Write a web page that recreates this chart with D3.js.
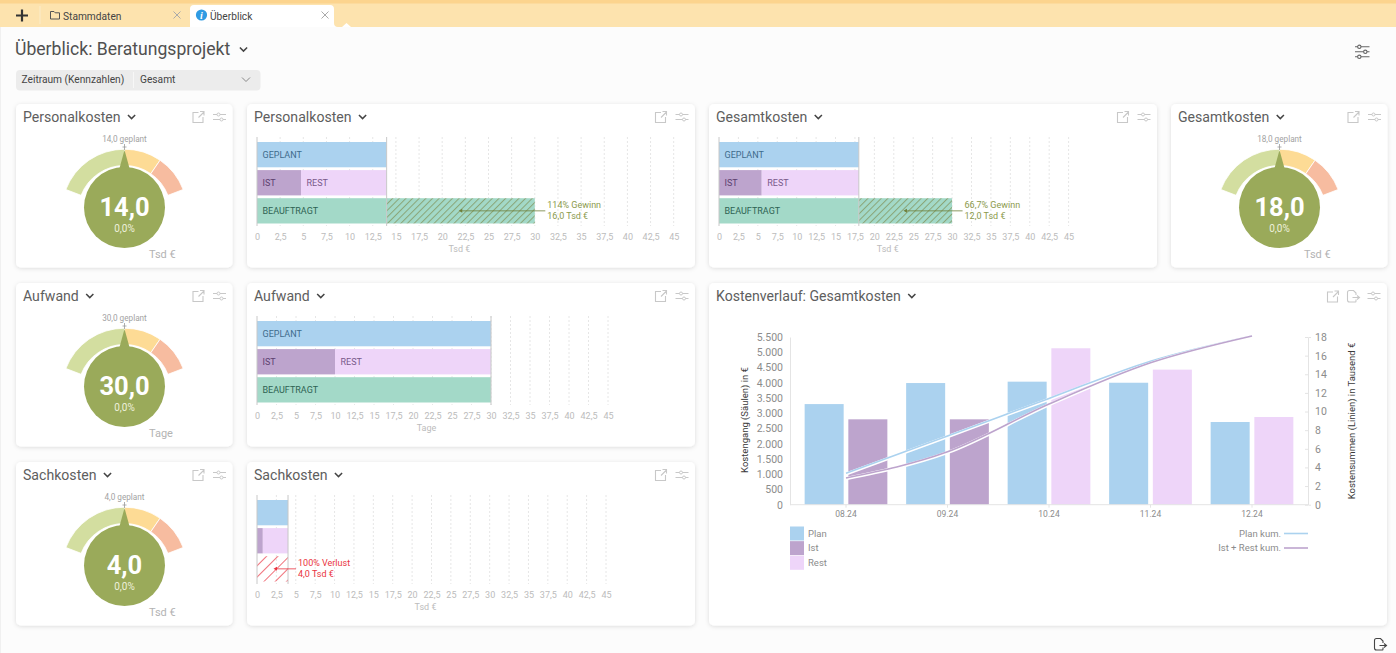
<!DOCTYPE html>
<html>
<head>
<meta charset="utf-8">
<style>
  html, body { margin: 0; padding: 0; background: #fff; overflow: hidden; }
  svg { display: block; font-family: Roboto, sans-serif; }
</style>
</head>
<body>
<script src="https://d3js.org/d3.v7.min.js"></script>
<script>
// gauge data
const gaugeTitles = ["Personalkosten", "Aufwand", "Sachkosten", "Gesamtkosten"];
const gaugeValues = [14, 30, 4, 18];
const gaugePlanned = [14, 30, 4, 18];
const gaugeDeviation = [0, 0, 0, 0];
const gaugeUnits = ["Tsd €", "Tage", "Tsd €", "Tsd €"];
const gaugeBands = [0, 1, 1.5, 2]; // share of plan

// horizontal bars
const barTitles = ["Personalkosten", "Aufwand", "Sachkosten", "Gesamtkosten"];
const barGeplant = [14, 30, 4, 18];
const barIst = [4.75, 10, 0.75, 5.5];
const barBeauftragt = [30, 30, 0, 30];
const barUnits = ["Tsd €", "Tage", "Tsd €", "Tsd €"];
const barNotes = ["114% Gewinn", "", "100% Verlust", "66,7% Gewinn"];
const barDiffs = ["16,0 Tsd €", "", "4,0 Tsd €", "12,0 Tsd €"];
const barTicks = [0, 2.5, 5, 7.5, 10, 12.5, 15, 17.5, 20, 22.5, 25, 27.5, 30, 32.5, 35, 37.5, 40, 42.5, 45];

// Kostenverlauf
const months = ["08.24", "09.24", "10.24", "11.24", "12.24"];
const planCosts = [3300, 3990, 4035, 4000, 2712];
const istCosts = [2800, 2800, 0, 0, 0];
const restCosts = [0, 0, 5130, 4430, 2876];
const planCum = [3.3, 7.3, 11.33, 15.33, 18.04];
const istRestCum = [2.8, 5.6, 10.73, 15.16, 18.04];
const leftTicks = [0, 500, 1000, 1500, 2000, 2500, 3000, 3500, 4000, 4500, 5000, 5500];
const rightTicks = [0, 2, 4, 6, 8, 10, 12, 14, 16, 18];

const c = {
  plan: "#abd2ef", ist: "#bda4cd", rest: "#eed5f9", teal: "#a3d9c8",
  title: "#5e5e5e", icon: "#c8c8c8", olive: "#8b9a4c", red: "#ea3340"
};
const deNum = d3.formatLocale({ decimal: ",", thousands: ".", grouping: [3], currency: ["", "€"] });
const fmt1 = deNum.format(".1f");
const fmtTick = v => String(v).replace(".", ",");
const fmtThousand = deNum.format(",");

const svg = d3.select("body").append("svg").attr("width", 1396).attr("height", 653);
const defs = svg.append("defs");

const shadow = defs.append("filter").attr("id", "shadow")
  .attr("x", "-5%").attr("y", "-5%").attr("width", "110%").attr("height", "110%");
shadow.append("feDropShadow").attr("dx", 0).attr("dy", 1).attr("stdDeviation", 2)
  .attr("flood-color", "#000").attr("flood-opacity", 0.13);

function hatch(id, size, color, back) {
  const p = defs.append("pattern").attr("id", id).attr("width", size).attr("height", size)
    .attr("patternUnits", "userSpaceOnUse").attr("patternTransform", "rotate(45)");
  if (back) p.append("rect").attr("width", size).attr("height", size).attr("fill", back);
  p.append("rect").attr("width", 1).attr("height", size).attr("fill", color);
}
hatch("hatchGreen", 4.7, "#8aa577", c.teal);
hatch("hatchRed", 8, "#f0707a", null);

svg.append("rect").attr("width", 1396).attr("height", 653).attr("fill", "#fcfcfc");
svg.append("rect").attr("y", 27).attr("width", 1).attr("height", 626).attr("fill", "#f0f0f0");

// ---------- tab bar ----------
svg.append("rect").attr("width", 1396).attr("height", 27).attr("fill", "#fde3ae");
svg.append("rect").attr("width", 1396).attr("height", 3.5).attr("fill", "#fcd48e");
svg.append("line").attr("x1", 40).attr("x2", 40).attr("y1", 6).attr("y2", 24).attr("stroke", "#fbecca");
svg.append("path").attr("d", "M16 15.5H28M22 9.5V21.5").attr("stroke", "#333").attr("stroke-width", 2.2).attr("fill", "none");
svg.append("path").attr("d", "M50.5 11.5h3.5l1.2 1.3h4.3v6.2h-9z").attr("fill", "none").attr("stroke", "#555").attr("stroke-width", 1);
svg.append("text").attr("x", 63).attr("y", 19.5).attr("font-size", 10.2).attr("fill", "#444").text("Stammdaten");
function closeX(x) {
  svg.append("path").attr("d", `M${x - 3.5} 11.5l7 7m0 -7l-7 7`).attr("stroke", "#aaa").attr("stroke-width", 1).attr("fill", "none");
}
closeX(177);
svg.append("path").attr("d", "M190 27V9q0 -4 4 -4H330q4 0 4 4V23q0 4 4 4z").attr("fill", "#fff");
svg.append("path").attr("d", "M342 27l4.5 -4l4.5 4z").attr("fill", "#fff");
svg.append("circle").attr("cx", 201.5).attr("cy", 15).attr("r", 5.6).attr("fill", "#2f9be3");
svg.append("text").attr("x", 201.5).attr("y", 18.6).attr("text-anchor", "middle").attr("font-size", 10)
  .attr("font-weight", 700).attr("font-style", "italic").attr("font-family", "'Liberation Serif', serif").attr("fill", "#fff").text("i");
svg.append("text").attr("x", 210).attr("y", 19.5).attr("font-size", 10.2).attr("fill", "#444").text("Überblick");
closeX(325);

// ---------- page header ----------
function chevron(g, x, y, color) {
  g.append("path").attr("d", `M${x - 3.6} ${y - 2}l3.6 3.6l3.6 -3.6`)
    .attr("fill", "none").attr("stroke", color || "#444").attr("stroke-width", 1.5);
}
svg.append("text").attr("x", 15).attr("y", 55).attr("font-size", 17.6).attr("fill", "#505050").text("Überblick: Beratungsprojekt");
chevron(svg, 243.5, 49.5);
svg.append("rect").attr("x", 16).attr("y", 70).attr("width", 244.5).attr("height", 20.5).attr("rx", 4).attr("fill", "#ececec");
svg.append("line").attr("x1", 133.5).attr("x2", 133.5).attr("y1", 72).attr("y2", 88).attr("stroke", "#f7f7f7");
svg.append("text").attr("x", 21.5).attr("y", 83).attr("font-size", 10.2).attr("fill", "#444").text("Zeitraum (Kennzahlen)");
svg.append("text").attr("x", 140).attr("y", 83).attr("font-size", 10.2).attr("fill", "#444").text("Gesamt");
svg.append("path").attr("d", "M242 77.5l4 4l4 -4").attr("fill", "none").attr("stroke", "#888").attr("stroke-width", 1);

function slidersIcon(g, x, y, color) {
  const t = g.append("g").attr("transform", `translate(${x},${y})`)
    .attr("fill", "none").attr("stroke", color).attr("stroke-width", 1);
  t.append("path").attr("d", "M0 2.5H4M7 2.5H13M0 7.5H7M10 7.5H13");
  t.append("circle").attr("cx", 5.5).attr("cy", 2.5).attr("r", 1.5);
  t.append("circle").attr("cx", 8.5).attr("cy", 7.5).attr("r", 1.5);
}
// page-level settings icon has three sliders
const pageIcon = svg.append("g").attr("transform", "translate(1355,45)")
  .attr("fill", "none").attr("stroke", "#666").attr("stroke-width", 1.1);
pageIcon.append("path").attr("d", "M0 1.8H2.6M6 1.8H14.5M0 6.8H8.5M12 6.8H14.5M0 11.8H2.6M6 11.8H14.5");
pageIcon.append("circle").attr("cx", 4.3).attr("cy", 1.8).attr("r", 1.7);
pageIcon.append("circle").attr("cx", 10.3).attr("cy", 6.8).attr("r", 1.7);
pageIcon.append("circle").attr("cx", 4.3).attr("cy", 11.8).attr("r", 1.7);

function linkIcon(g, x, y) {
  g.append("path").attr("transform", `translate(${x},${y})`)
    .attr("d", "M6 1.5H0.5V11.5H10.5V6M6 6.5L11.5 1M7.5 0.5H11.5V4.5")
    .attr("fill", "none").attr("stroke", c.icon).attr("stroke-width", 1.1);
}
function exportIcon(g, x, y, color) {
  g.append("path").attr("transform", `translate(${x},${y})`)
    .attr("d", "M9 5V3L6.5 0.5H2.5Q0.5 0.5 0.5 2.5V10Q0.5 12 2.5 12H8.5Q9 12 9 11V9.5M5.5 7.5H12M10 5.5L12.5 7.5L10 9.5")
    .attr("fill", "none").attr("stroke", color).attr("stroke-width", 1.1);
}
exportIcon(svg, 1374, 638, "#444");

// ---------- panels ----------
function panel(x, y, w, h, title, extraIcon) {
  const g = svg.append("g").attr("transform", `translate(${x},${y})`);
  g.append("rect").attr("width", w).attr("height", h).attr("rx", 5).attr("fill", "#fff").attr("filter", "url(#shadow)");
  const t = g.append("text").attr("x", 7).attr("y", 18.3).attr("font-size", 14.1).attr("fill", c.title).text(title);
  chevron(g, 7 + t.node().getComputedTextLength() + 11, 13);
  if (extraIcon) {
    linkIcon(g, w - 60, 7.5);
    exportIcon(g, w - 40, 7, c.icon);
  } else {
    linkIcon(g, w - 40, 7);
  }
  slidersIcon(g, w - 19.5, 8, c.icon);
  return g;
}

// gauge panels
const gaugeX = [16, 16, 16, 1171];
const gaugeY = [104, 283, 462, 104];
gaugeTitles.forEach((title, i) => {
  const g = panel(gaugeX[i], gaugeY[i], 216.5, 163.5, title);
  const cx = 108.5;
  const angle = d3.scaleLinear().domain([0, gaugePlanned[i] * 2]).range([-69, 69].map(d => d * Math.PI / 180));
  const arc = d3.arc().innerRadius(46.5).outerRadius(62.8);
  const colors = ["#d3dea0", "#fddb95", "#f7bca0"];
  const gc = g.append("g").attr("transform", `translate(${cx},108)`);
  d3.pairs(gaugeBands).forEach(([a, b], k) => {
    gc.append("path")
      .attr("d", arc({ startAngle: angle(a * gaugePlanned[i]), endAngle: angle(b * gaugePlanned[i]) }))
      .attr("fill", colors[k]).attr("stroke", "#fff").attr("stroke-width", 0.8);
  });
  const needle = angle(gaugeValues[i]);
  g.append("path").attr("d", d3.line()([[cx - 5.5, 66], [cx + Math.sin(needle) * 62, 108 - Math.cos(needle) * 62], [cx + 5.5, 66]]))
    .attr("fill", "#9aaa5a");
  g.append("circle").attr("cx", cx).attr("cy", 103.5).attr("r", 40.5).attr("fill", "#9aaa5a");
  g.append("path").attr("d", `M${cx} 40v6M${cx - 2} 43h4`).attr("stroke", "#999").attr("stroke-width", 0.8);
  g.append("text").attr("x", cx).attr("y", 38).attr("text-anchor", "middle").attr("font-size", 8.2).attr("fill", "#a3a3a3")
    .text(fmt1(gaugePlanned[i]) + " geplant");
  g.append("text").attr("x", cx).attr("y", 112).attr("text-anchor", "middle").attr("font-size", 25.5).attr("font-weight", 700).attr("fill", "#fff")
    .text(fmt1(gaugeValues[i]));
  g.append("text").attr("x", cx).attr("y", 128).attr("text-anchor", "middle").attr("font-size", 10).attr("fill", "#eef1dc")
    .text(fmt1(gaugeDeviation[i]) + "%");
  g.append("text").attr("x", 133).attr("y", 154).attr("font-size", 11).attr("fill", "#b3b3b3").text(gaugeUnits[i]);
});

// bar panels
const barX = [247, 247, 247, 709];
const barY = [104, 283, 462, 104];
const barAxisEnd = [426.7, 361, 359, 359.6];
barTitles.forEach((title, i) => {
  const g = panel(barX[i], barY[i], 448, 163.5, title);
  const x = d3.scaleLinear().domain([0, 45]).range([10, barAxisEnd[i]]);
  const y = d3.scaleBand().domain(["geplant", "ist", "beauftragt"]).range([38, 119.5]).paddingInner(0.1);
  const bh = y.bandwidth();

  g.append("g").selectAll("line").data(barTicks.slice(1)).join("line")
    .attr("x1", d => x(d)).attr("x2", d => x(d)).attr("y1", 33).attr("y2", 122)
    .attr("stroke", "#e6e6e6").attr("stroke-dasharray", "2,2");

  const bars = g.append("g");
  const plan = barGeplant[i], ist = barIst[i], auf = barBeauftragt[i];
  const rect = (from, to, row, fill) => bars.append("rect").attr("x", x(from)).attr("width", x(to) - x(from))
    .attr("y", y(row)).attr("height", bh).attr("fill", fill);
  rect(0, plan, "geplant", c.plan);
  rect(0, ist, "ist", c.ist);
  rect(ist, plan, "ist", c.rest);
  if (auf > 0) rect(0, Math.min(auf, plan), "beauftragt", c.teal);
  if (auf > plan) rect(plan, auf, "beauftragt", "url(#hatchGreen)");
  if (auf < plan) rect(auf, plan, "beauftragt", "url(#hatchRed)");

  // labels only where the bar is wide enough
  if (x(plan) - x(0) > 60) {
    const label = (px, row, txt, col) => g.append("text").attr("x", px).attr("y", y(row) + bh / 2 + 3.2)
      .attr("font-size", 9).attr("fill", col).text(txt);
    label(x(0) + 5.5, "geplant", "GEPLANT", "#3e6b8c");
    label(x(0) + 5.5, "ist", "IST", "#5c4070");
    label(x(ist) + 5.5, "ist", "REST", "#78598a");
    label(x(0) + 5.5, "beauftragt", "BEAUFTRAGT", "#2e6353");
  }

  g.append("line").attr("x1", x(0)).attr("x2", x(0)).attr("y1", 33).attr("y2", 122).attr("stroke", "#c8c8c8");
  g.append("line").attr("x1", x(plan)).attr("x2", x(plan)).attr("y1", 33).attr("y2", 122).attr("stroke", "#c8c8c8");

  // deviation note
  if (barNotes[i]) {
    const col = auf > plan ? c.olive : c.red;
    const lineCol = auf > plan ? "#6f7f3a" : c.red;
    const end = Math.max(auf, plan);
    const mid = (x(plan) + x(auf)) / 2 + (auf > plan ? 0 : 3);
    const ly = y("beauftragt") + bh / 2;
    const lx = x(end) + (auf > plan ? 10.5 : 8);
    g.append("line").attr("x1", mid).attr("x2", lx).attr("y1", ly).attr("y2", ly).attr("stroke", lineCol).attr("stroke-width", 0.8);
    g.append("path").attr("d", `M${mid - 2} ${ly}l3.5 -2v4z`).attr("fill", lineCol);
    const note = g.append("text").attr("font-size", 9).attr("fill", col);
    note.append("tspan").attr("x", lx + 2).attr("y", ly - 2.5).text(barNotes[i]);
    note.append("tspan").attr("x", lx + 2).attr("y", ly + 8.5).text(barDiffs[i]);
  }

  const axis = d3.axisBottom(x).tickValues(barTicks).tickFormat(fmtTick).tickSize(0).tickPadding(7.5);
  const ag = g.append("g").attr("transform", "translate(0,122)").call(axis);
  ag.select(".domain").remove();
  ag.selectAll("text").attr("font-size", 9).attr("font-family", "Roboto").attr("fill", "#bcbcbc");
  g.append("text").attr("x", (x(0) + x(45)) / 2 - 6).attr("y", 148).attr("text-anchor", "middle")
    .attr("font-size", 9).attr("fill", "#bcbcbc").text(barUnits[i]);
});

// ---------- Kostenverlauf ----------
panel(709, 283, 678, 342.5, "Kostenverlauf: Gesamtkosten", true);
const chart = svg.append("g");
const xBand = d3.scaleBand().domain(months).range([795.25, 1302.75]).paddingInner(0.185).paddingOuter(0.0925);
const xSub = d3.scaleBand().domain([0, 1]).range([0, xBand.bandwidth()]).paddingInner(0.107);
const yLeft = d3.scaleLinear().domain([0, 5500]).range([504.7, 337]);
const yRight = d3.scaleLinear().domain([0, 18]).range([504.7, 337]);
const lineX = m => xBand(m) + xBand.bandwidth() / 2;

function barSeries(values, col, sub) {
  chart.append("g").selectAll("rect").data(values).join("rect")
    .attr("x", (d, i) => xBand(months[i]) + xSub(sub)).attr("width", xSub.bandwidth())
    .attr("y", d => yLeft(d)).attr("height", d => yLeft(0) - yLeft(d))
    .attr("fill", col);
}
barSeries(planCosts, c.plan, 0);
barSeries(istCosts, c.ist, 1);
barSeries(restCosts, c.rest, 1);

// axes
const axisStyle = (sel, size) => {
  sel.selectAll("text").attr("font-size", size).attr("font-family", "Roboto").attr("fill", "#8c8c8c");
  sel.selectAll("line").attr("stroke", "#e4e4e4");
  sel.select(".domain").attr("stroke", "#e4e4e4");
};
const la = chart.append("g").attr("transform", "translate(790,0)")
  .call(d3.axisLeft(yLeft).tickValues(leftTicks).tickFormat(fmtThousand).tickSize(0).tickPadding(7));
axisStyle(la, 10.5);
const ra = chart.append("g").attr("transform", "translate(1308,0)")
  .call(d3.axisRight(yRight).tickValues(rightTicks).tickSize(3).tickPadding(4));
ra.selectAll(".tick line").attr("x1", -3).attr("x2", 0);
axisStyle(ra, 10.5);
const ba = chart.append("g").attr("transform", "translate(0,504.7)")
  .call(d3.axisBottom(xBand).tickSize(3).tickPadding(3));
ba.select(".domain").attr("d", "M790,0H1308");
axisStyle(ba, 8.5);

// cumulative lines, white casing under the colour
const cumLine = d3.line().x((d, i) => lineX(months[i])).y(d => yRight(d)).curve(d3.curveMonotoneX);
[[planCum, c.plan], [istRestCum, c.ist]].forEach(([vals, col]) => {
  chart.append("path").attr("d", cumLine(vals)).attr("fill", "none").attr("stroke", "#fff").attr("stroke-width", 3.2);
  chart.append("path").attr("d", cumLine(vals)).attr("fill", "none").attr("stroke", col).attr("stroke-width", 1.6)
    .attr("transform", "translate(0,-0.7)");
});

chart.append("text").attr("transform", "translate(748,420) rotate(-90)").attr("text-anchor", "middle")
  .attr("font-size", 9.5).attr("fill", "#3a3a3a").text("Kostengang (Säulen) in €");
chart.append("text").attr("transform", "translate(1355,421) rotate(-90)").attr("text-anchor", "middle")
  .attr("font-size", 9.5).attr("fill", "#3a3a3a").text("Kostensummen (Linien) in Tausend €");

// legends
const legendNames = ["Plan", "Ist", "Rest"];
const legendColors = [c.plan, c.ist, c.rest];
const legendY = d3.scalePoint().domain(legendNames).range([533.5, 562.8]);
legendNames.forEach((n, i) => {
  chart.append("rect").attr("x", 790).attr("y", legendY(n) - 7).attr("width", 14).attr("height", 14).attr("fill", legendColors[i]);
  chart.append("text").attr("x", 808).attr("y", legendY(n) + 3.2).attr("font-size", 9.5).attr("fill", "#8c8c8c").text(n);
});
const lineLegend = ["Plan kum.", "Ist + Rest kum."];
const lineLegendColors = [c.plan, c.ist];
const lineLegendY = d3.scalePoint().domain(lineLegend).range([533.5, 548]);
lineLegend.forEach((n, i) => {
  chart.append("line").attr("x1", 1284).attr("x2", 1308).attr("y1", lineLegendY(n)).attr("y2", lineLegendY(n))
    .attr("stroke", lineLegendColors[i]).attr("stroke-width", 1.6);
  chart.append("text").attr("x", 1281).attr("y", lineLegendY(n) + 3.2).attr("text-anchor", "end")
    .attr("font-size", 9.5).attr("fill", "#8c8c8c").text(n);
});
</script>
</body>
</html>
